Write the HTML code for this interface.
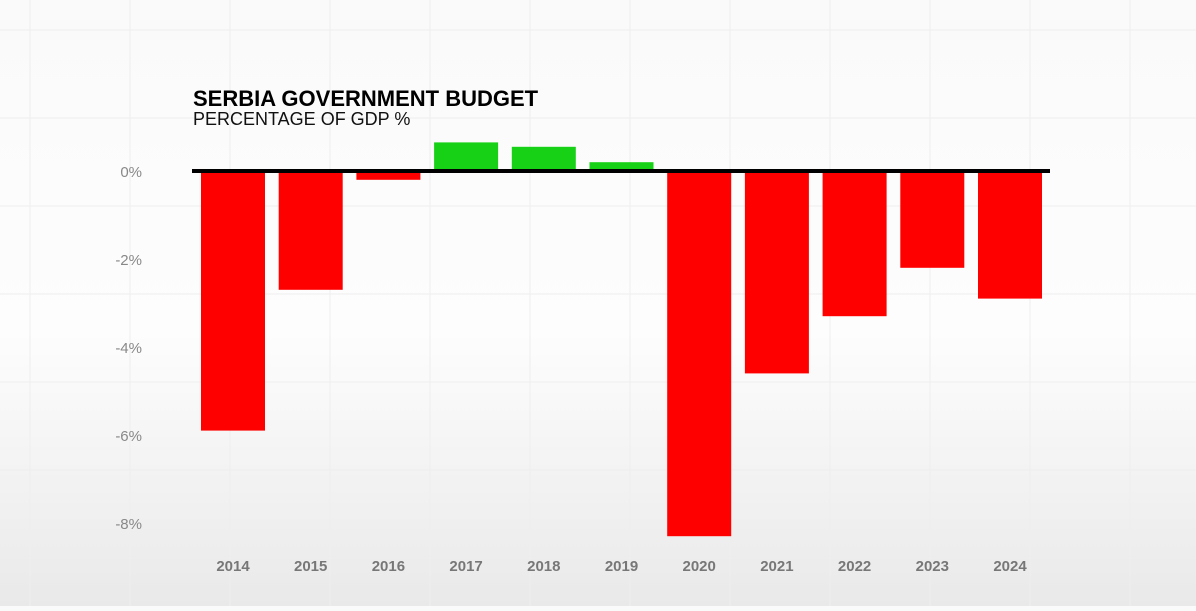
<!DOCTYPE html>
<html><head><meta charset="utf-8"><style>
html,body{margin:0;padding:0}
body{width:1196px;height:606px;overflow:hidden;background:linear-gradient(#fafafa 0%,#fdfdfd 55%,#e9e9e9 100%);font-family:"Liberation Sans",sans-serif}
</style></head><body>
<svg id="chart" width="1196" height="606" xmlns="http://www.w3.org/2000/svg">
<g id="grid"></g>
<text x="193" y="106" font-size="22" font-weight="bold" fill="#000">SERBIA GOVERNMENT BUDGET</text>
<text x="193" y="125" font-size="18" fill="#111">PERCENTAGE OF GDP %</text>
<g id="yaxis"></g>
<g id="bars"></g>
<g id="xaxis"></g>
<line x1="192" x2="1050" y1="171" y2="171" stroke="#000" stroke-width="4"/>
</svg>
<script>
const categories=["2014","2015","2016","2017","2018","2019","2020","2021","2022","2023","2024"];
const values=[-5.9,-2.7,-0.2,0.65,0.55,0.2,-8.3,-4.6,-3.3,-2.2,-2.9];
const yTicks=[0,-2,-4,-6,-8];
const yTickLabels=["0%","-2%","-4%","-6%","-8%"];
const NS="http://www.w3.org/2000/svg";
const y0=171,pxPer=44,x0=201,step=77.7,bw=64;
const y=v=>y0-v*pxPer;
const x=i=>x0+i*step;
function mk(t,a,p){const e=document.createElementNS(NS,t);for(const k in a)e.setAttribute(k,a[k]);p.appendChild(e);return e;}
const grid=document.getElementById('grid');
for(let gx=30;gx<1196;gx+=100){const l=mk('line',{x1:gx,x2:gx,y1:0,y2:606,stroke:'#eeeeee','stroke-width':1},grid);

}
for(let gy=30;gy<606;gy+=88){const l=mk('line',{x1:0,x2:1196,y1:gy,y2:gy,stroke:'#eeeeee','stroke-width':1},grid);

}
const ya=document.getElementById('yaxis');
yTicks.forEach((t,i)=>{const e=mk('text',{x:142,y:y(t)+6,'font-size':15,fill:'#888','text-anchor':'end'},ya);e.textContent=yTickLabels[i];

});
const bars=document.getElementById('bars'),xa=document.getElementById('xaxis');
values.forEach((v,i)=>{const top=Math.min(y(v),y0),h=Math.abs(y(v)-y0);
const r=mk('rect',{x:x(i),y:top,width:bw,height:h,fill:v>=0?'#16d116':'#ff0000'},bars);


const t=mk('text',{x:x(i)+bw/2,y:571,'font-size':15,'font-weight':'bold',fill:'#777','text-anchor':'middle'},xa);t.textContent=categories[i];

});
</script>
</body></html>
